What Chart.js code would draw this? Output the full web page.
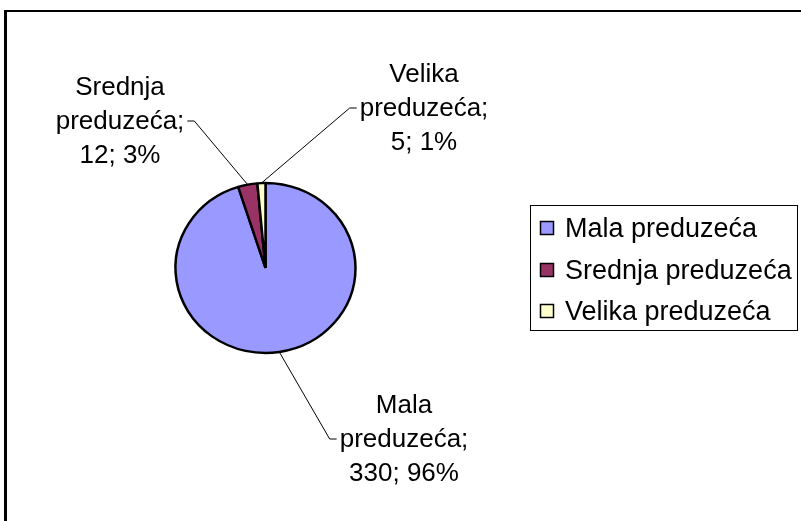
<!DOCTYPE html>
<html>
<head>
<meta charset="utf-8">
<script src="https://cdn.jsdelivr.net/npm/chart.js@4.4.1/dist/chart.umd.min.js"></script>
<style>
html, body { margin: 0; padding: 0; background: #fff; overflow: hidden; }
#wrap { position: relative; width: 801px; height: 521px; }
</style>
</head>
<body>
<div id="wrap"><canvas id="pieChart" width="801" height="521"></canvas></div>
<script>
var categories = ['Mala preduzeća', 'Srednja preduzeća', 'Velika preduzeća'];
var values = [330, 12, 5];
var percentLabels = ['96%', '3%', '1%'];
var colors = ['#9999FF', '#993366', '#FFFFCC'];

var LABEL_FONT = '26px "Liberation Sans", Arial, sans-serif';
var LEGEND_FONT = '27px "Liberation Sans", Arial, sans-serif';
var squash = 85 / 90; // excel draws the pie a bit flat

// where the data labels sit (center x, first baseline, side of the leader)
var labelPos = [
    { x: 404, y: 413, side: 'left' },
    { x: 120, y: 95, side: 'right' },
    { x: 424, y: 82, side: 'left' }
];

function pieCenter(chart) {
    var a = chart.getDatasetMeta(0).data[0];
    return { x: a.x, y: a.y };
}

var squashPlugin = {
    id: 'squash',
    beforeDatasetsDraw: function (chart) {
        var c = pieCenter(chart);
        var ctx = chart.ctx;
        ctx.save();
        ctx.translate(c.x, c.y);
        ctx.scale(1, squash);
        ctx.translate(-c.x, -c.y);
    },
    afterDatasetsDraw: function (chart) {
        chart.ctx.restore();
    }
};

var extrasPlugin = {
    id: 'extras',
    afterDraw: function (chart) {
        var ctx = chart.ctx;
        var arcs = chart.getDatasetMeta(0).data;
        ctx.save();

        // chart frame
        ctx.fillStyle = '#000';
        ctx.fillRect(4, 10, 797, 2);
        ctx.fillRect(4, 10, 3, 511);

        ctx.font = LABEL_FONT;
        ctx.textBaseline = 'alphabetic';

        // data labels + leader lines
        for (var i = 0; i < arcs.length; i++) {
            var a = arcs[i];
            var p = labelPos[i];
            var words = categories[i].split(' ');
            var lines = [words[0], words.slice(1).join(' ') + ';', values[i] + '; ' + percentLabels[i]];
            ctx.fillStyle = '#000';
            ctx.textAlign = 'center';
            for (var k = 0; k < lines.length; k++) {
                ctx.fillText(lines[k], p.x, p.y + k * 34);
            }
            var w = ctx.measureText(lines[1]).width;
            var ly = p.y + 34 - 8;
            var x1, x2;
            if (p.side === 'left') {
                x1 = p.x - w / 2 - 3;
                x2 = x1 - 7;
            } else {
                x1 = p.x + w / 2 + 3;
                x2 = x1 + 7;
            }
            var mid = (a.startAngle + a.endAngle) / 2;
            var ex = a.x + Math.cos(mid) * a.outerRadius;
            var ey = a.y + Math.sin(mid) * a.outerRadius * squash;
            ctx.strokeStyle = '#000';
            ctx.lineWidth = 1;
            ctx.beginPath();
            ctx.moveTo(x1, ly);
            ctx.lineTo(x2, ly);
            ctx.lineTo(ex, ey);
            ctx.stroke();
        }

        // legend
        ctx.font = LEGEND_FONT;
        ctx.strokeStyle = '#000';
        ctx.lineWidth = 1;
        ctx.strokeRect(530.5, 205.5, 267, 125);
        var rows = [228, 270, 311];
        ctx.textAlign = 'left';
        for (var j = 0; j < categories.length; j++) {
            ctx.fillStyle = colors[j];
            ctx.fillRect(540, rows[j] - 7, 14, 14);
            ctx.lineWidth = 1.5;
            ctx.strokeRect(540.5, rows[j] - 6.5, 13, 13);
            ctx.fillStyle = '#000';
            ctx.fillText(categories[j], 565, rows[j] + 9);
        }
        ctx.restore();
    }
};

var ctx = document.getElementById('pieChart').getContext('2d');
var myPieChart = new Chart(ctx, {
    type: 'pie',
    data: {
        labels: categories,
        datasets: [{
            data: values,
            backgroundColor: colors,
            borderColor: '#000',
            borderWidth: 2.5
        }]
    },
    options: {
        responsive: false,
        animation: false,
        radius: 90,
        layout: {
            padding: { left: 0, right: 270, top: 15, bottom: 0 }
        },
        plugins: {
            legend: { display: false },
            tooltip: { enabled: false }
        }
    },
    plugins: [squashPlugin, extrasPlugin]
});
</script>
</body>
</html>
